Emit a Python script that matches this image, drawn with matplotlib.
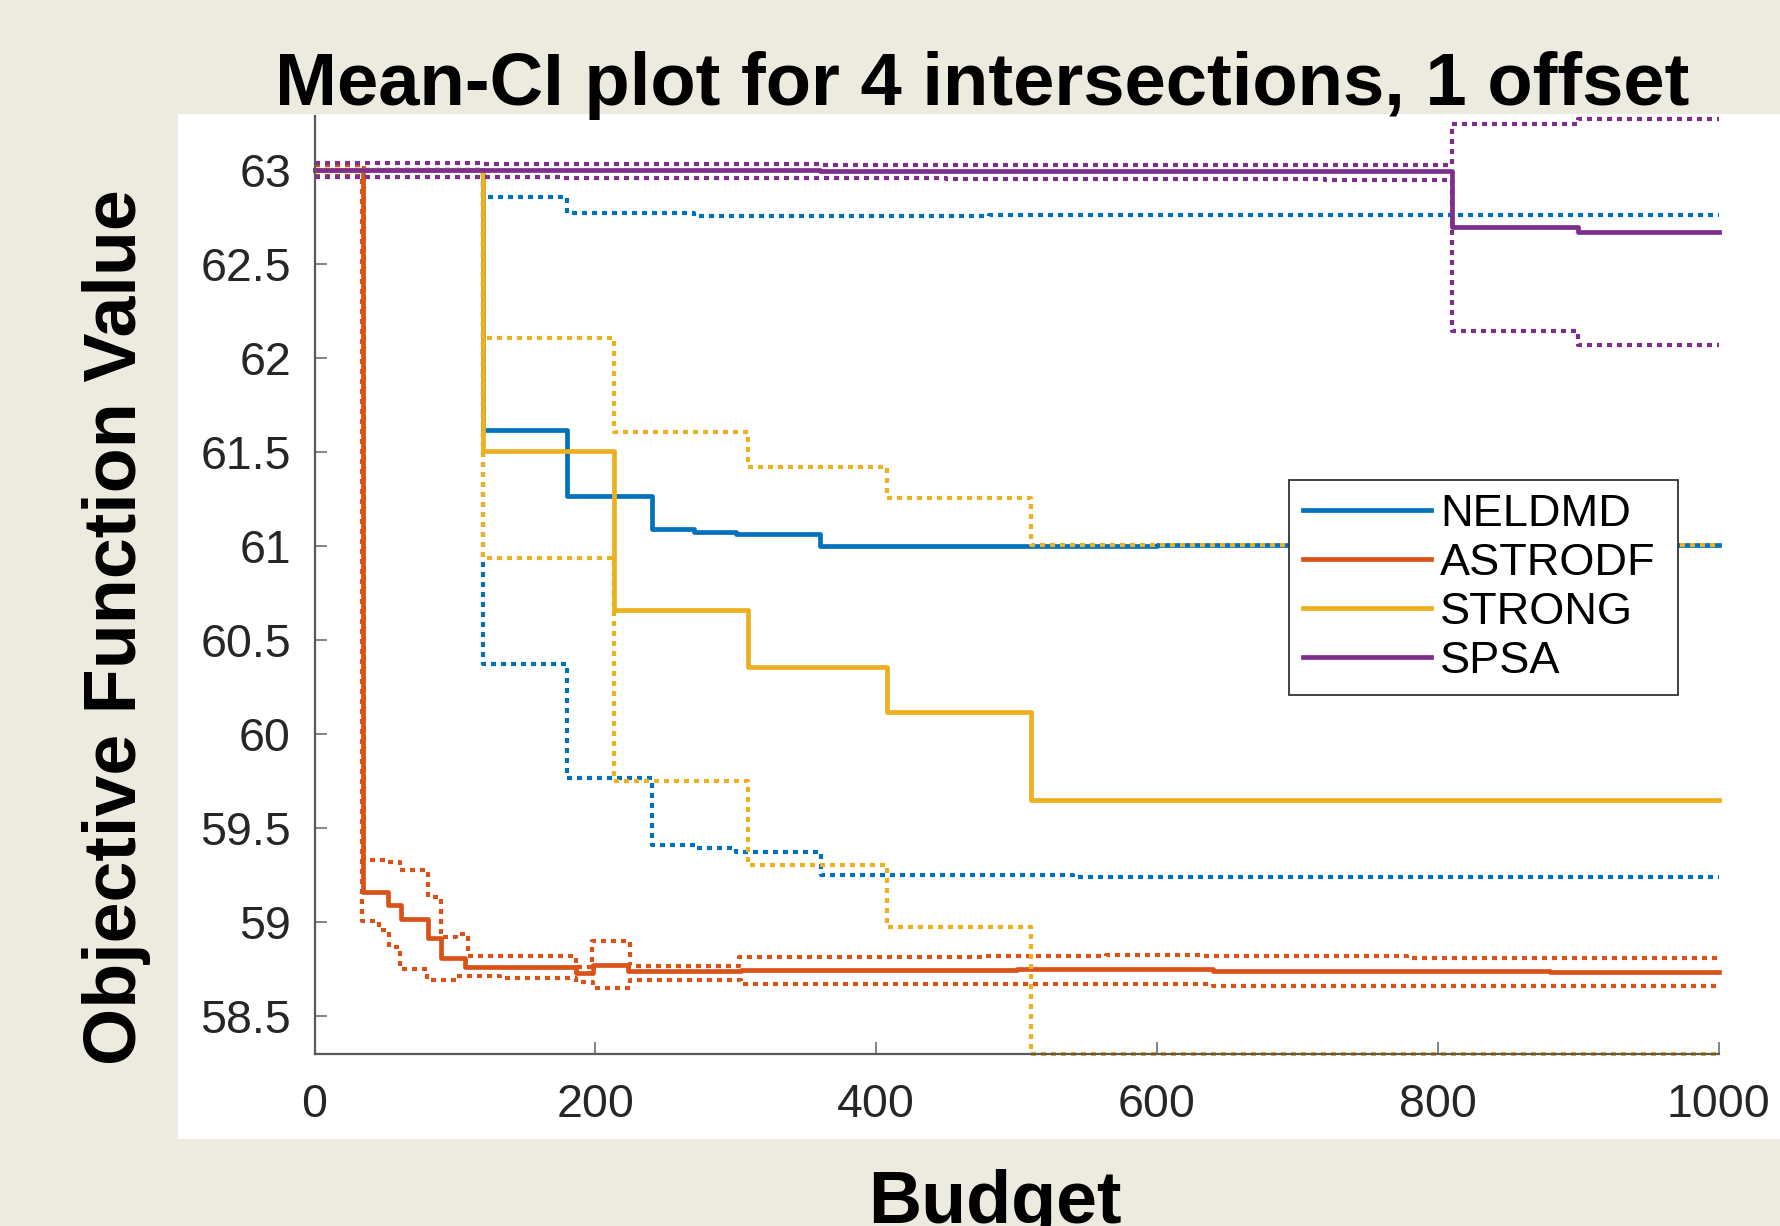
import matplotlib
matplotlib.use("Agg")
import matplotlib.pyplot as plt
from matplotlib.patches import Rectangle

plt.rcParams["font.family"] = ["Liberation Sans", "DejaVu Sans"]

# ── Data (step curves: value holds until next x) ──────────────────────────────
BUDGET_TICKS = [0, 200, 400, 600, 800, 1000]
VALUE_TICKS = [58.5, 59, 59.5, 60, 60.5, 61, 61.5, 62, 62.5, 63]
VALUE_TICK_LABELS = ["58.5", "59", "59.5", "60", "60.5", "61", "61.5", "62", "62.5", "63"]

# NELDMD
neldmd_x = [0, 120, 180, 240, 270, 300, 360, 600, 1000]
neldmd_mean = [63.0, 61.62, 61.27, 61.09, 61.075, 61.065, 61.0, 61.005, 61.005]
neldmd_hi_x = [0, 120, 180, 270, 330, 480, 1000]
neldmd_hi = [63.0, 62.86, 62.776, 62.755, 62.76, 62.765, 62.765]
neldmd_lo_x = [0, 120, 180, 240, 272, 300, 361, 540, 1000]
neldmd_lo = [63.0, 60.375, 59.77, 59.41, 59.398, 59.376, 59.25, 59.24, 59.24]

# ASTRODF
astro_x = [0, 34.4, 52, 61.7, 81, 90, 107, 186.4, 198.6, 223, 304, 500, 640, 880, 1000]
astro_mean = [63.0, 59.16, 59.09, 59.02, 58.915, 58.81, 58.765, 58.73, 58.775,
              58.74, 58.748, 58.752, 58.742, 58.738, 58.738]
astro_hi_x = [0, 35, 52, 61, 81, 90, 100.5, 109, 186.4, 197.5, 224.5, 302.5,
              475, 564, 631, 778, 1000]
astro_hi = [63.03, 59.33, 59.32, 59.28, 59.135, 58.92, 58.94, 58.82, 58.765,
            58.90, 58.77, 58.817, 58.822, 58.826, 58.822, 58.808, 58.808]
astro_lo_x = [0, 33.5, 46, 53, 61, 80, 100.5, 132, 186.4, 198.6, 224.5, 304,
              640, 1000]
astro_lo = [62.97, 59.01, 58.96, 58.87, 58.75, 58.695, 58.715, 58.705, 58.685,
            58.65, 58.695, 58.672, 58.662, 58.662]

# STRONG
strong_x = [0, 120, 213.6, 309, 408, 510.5, 1000]
strong_mean = [63.0, 61.51, 60.66, 60.36, 60.12, 59.65, 59.65]
strong_hi = [63.0, 62.11, 61.61, 61.42, 61.26, 61.01, 61.01]
strong_lo = [63.0, 60.94, 59.753, 59.305, 58.975, 58.30, 58.30]

# SPSA
spsa_x = [0, 360, 810, 900, 1000]
spsa_mean = [63.0, 62.995, 62.70, 62.67, 62.67]
spsa_hi_x = [0, 120, 360, 810, 900, 1000]
spsa_hi = [63.04, 63.035, 63.03, 63.245, 63.275, 63.275]
spsa_lo_x = [0, 177, 450, 720, 810, 900, 1000]
spsa_lo = [62.965, 62.958, 62.952, 62.948, 62.147, 62.07, 62.07]

METHODS = [
    {"label": "NELDMD", "color": "#0072BD",
     "mean": (neldmd_x, neldmd_mean), "hi": (neldmd_hi_x, neldmd_hi), "lo": (neldmd_lo_x, neldmd_lo)},
    {"label": "ASTRODF", "color": "#D95319",
     "mean": (astro_x, astro_mean), "hi": (astro_hi_x, astro_hi), "lo": (astro_lo_x, astro_lo)},
    {"label": "STRONG", "color": "#EDB120",
     "mean": (strong_x, strong_mean), "hi": (strong_x, strong_hi), "lo": (strong_x, strong_lo)},
    {"label": "SPSA", "color": "#7E2F8E",
     "mean": (spsa_x, spsa_mean), "hi": (spsa_hi_x, spsa_hi), "lo": (spsa_lo_x, spsa_lo)},
]

BG = "#EDEBE0"
W, H = 1781, 1226

fig = plt.figure(figsize=(W / 100, H / 100), dpi=100, facecolor=BG)

# white panel behind the MATLAB figure
fig.patches.append(Rectangle((178 / W, 1 - 1139 / H), 1 - 178 / W, (1139 - 114) / H,
                             transform=fig.transFigure, facecolor="white",
                             edgecolor="none", zorder=-5))

ax = fig.add_axes([314.6 / W, 1 - 1054 / H, 1404 / W, (1054 - 115.9) / H])
ax.set_facecolor("white")
ax.set_zorder(1)

DOT = (0, (1.2, 1.2))
handles = []
for m in METHODS:
    ln, = ax.plot(*m["mean"], drawstyle="steps-post", color=m["color"], lw=3.4,
                  label=m["label"], clip_on=False)
    handles.append(ln)
    ax.plot(*m["hi"], drawstyle="steps-post", color=m["color"], lw=3.0,
            linestyle=DOT, clip_on=False)
    ax.plot(*m["lo"], drawstyle="steps-post", color=m["color"], lw=3.0,
            linestyle=DOT, clip_on=False)

ax.set_xlim(0, 1000)
ax.set_ylim(58.30, 63.29)
ax.set_xticks(BUDGET_TICKS)
ax.set_xticklabels([str(t) for t in BUDGET_TICKS])
ax.set_yticks(VALUE_TICKS)
ax.set_yticklabels(VALUE_TICK_LABELS)

for s in ("top", "right"):
    ax.spines[s].set_visible(False)
for s in ("left", "bottom"):
    ax.spines[s].set_color("#5a5a5a")
    ax.spines[s].set_linewidth(1.6)

ax.tick_params(direction="in", length=8.5, width=1.2, color="#6e6e6e",
               labelsize=33.5, labelcolor="#262626")
ax.tick_params(axis="y", pad=17)
ax.tick_params(axis="x", pad=21)

leg = ax.legend(handles=handles, loc="upper left",
                bbox_to_anchor=(1289 / W, 1 - 698 / H, (1678 - 1289) / W, (698 - 480) / H),
                bbox_transform=fig.transFigure,
                mode="expand", fontsize=32.5, frameon=True, fancybox=False,
                framealpha=1, facecolor="white", edgecolor="#333333",
                borderpad=0.3, labelspacing=0.18, handlelength=2.85,
                handletextpad=0.2, borderaxespad=0)
leg.get_frame().set_linewidth(1.3)

fig.text(982 / W, 1 - 105 / H, "Mean-CI plot for 4 intersections, 1 offset",
         ha="center", va="baseline", fontsize=53.5, fontweight="bold")
fig.text(995 / W, 3 / H, "Budget", ha="center", va="baseline",
         fontsize=53, fontweight="bold")
fig.text(136 / W, 1 - 627.5 / H, "Objective Function Value", rotation=90,
         rotation_mode="anchor", ha="center", va="baseline",
         fontsize=53, fontweight="bold")

fig.savefig("out.png", dpi=100, facecolor=BG)
